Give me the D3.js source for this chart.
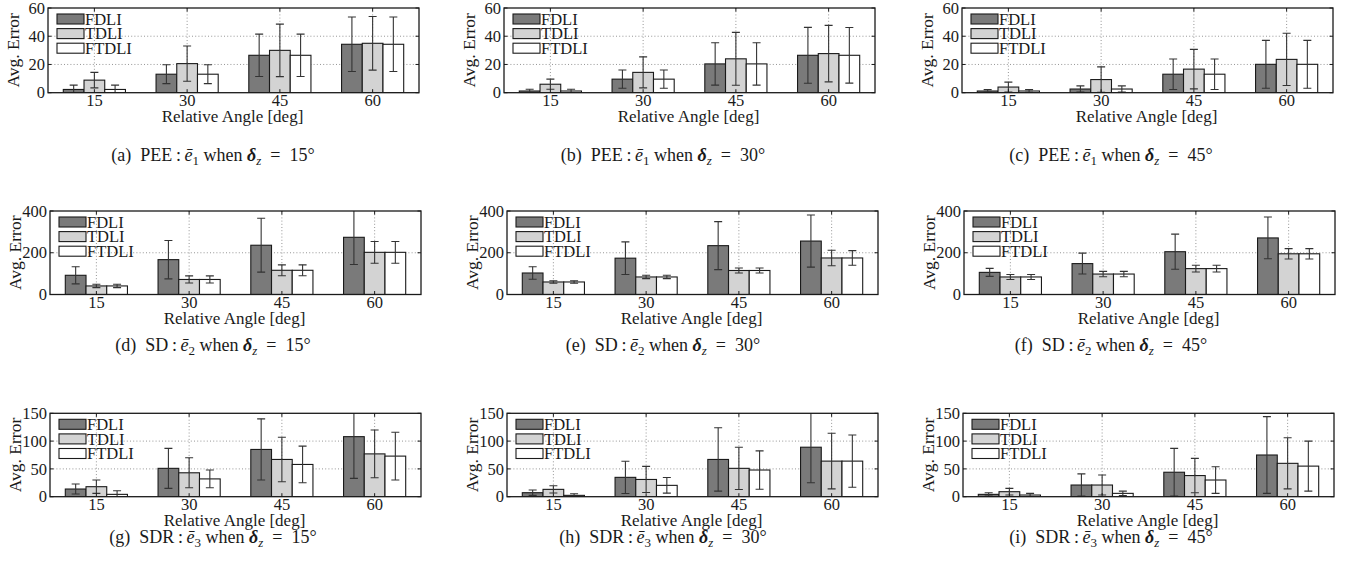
<!DOCTYPE html>
<html><head><meta charset="utf-8">
<script src="https://cdn.jsdelivr.net/npm/d3@7"></script>
<style>
body{margin:0;background:#fff}
svg{display:block}
text{font-family:"Liberation Serif","Times New Roman",serif;fill:#1a1a1a}
</style>
</head><body><svg id="c" width="1352" height="585"></svg>
<script>
// ---------- data ----------
const categories = ["15", "30", "45", "60"];
const seriesNames = ["FDLI", "TDLI", "FTDLI"];
const seriesColors = ["#7a7a7a", "#d3d3d3", "#ffffff"];
const rowTicks = [[0, 20, 40, 60], [0, 200, 400], [0, 50, 100, 150]];
const rowMeasures = ["PEE", "SD", "SDR"];
const rowSub = ["1", "2", "3"];
const colDeltas = ["15", "30", "45"];
const panelLetters = ["a", "b", "c", "d", "e", "f", "g", "h", "i"];

// means / half error (rows: FDLI, TDLI, FTDLI; columns: 15,30,45,60)
const aMean = [[2.3, 13.1, 26.5, 34.3], [8.9, 20.6, 30, 35], [2.3, 13.1, 26.5, 34.3]];
const aErr  = [[3.1, 6.7, 15, 19.3], [5.5, 12.5, 18.6, 19], [3.1, 6.7, 15, 19.3]];
const bMean = [[1.2, 9.6, 20.4, 26.5], [6, 14.4, 24, 27.7], [1.2, 9.6, 20.4, 26.5]];
const bErr  = [[1.2, 6.5, 15, 19.8], [3.6, 11, 18.7, 20], [1.2, 6.5, 15, 19.7]];
const cMean = [[1.2, 2.6, 13.1, 20.1], [4, 9.3, 16.7, 23.6], [1.2, 2.6, 13.1, 20.1]];
const cErr  = [[1, 2.2, 10.8, 17], [3.5, 9, 14, 18.5], [1, 2.2, 10.8, 17]];
const dMean = [[92, 167, 236, 274], [41, 72, 116, 202], [41, 72, 116, 202]];
const dErr  = [[41, 92, 129, 130], [8, 17, 26, 52], [8, 17, 26, 52]];
const eMean = [[103, 174, 234, 256], [60, 84, 115, 175], [60, 84, 115, 175]];
const eErr  = [[30, 78, 115, 125], [6, 8, 12, 37], [6, 8, 12, 35]];
const fMean = [[106, 148, 205, 271], [84, 98, 124, 195], [84, 98, 124, 195]];
const fErr  = [[19, 50, 84, 100], [12, 13, 16, 25], [12, 13, 16, 25]];
const gMean = [[13.8, 51, 85, 108], [18, 43, 67, 77], [4.2, 32, 58, 73]];
const gErr  = [[9, 36, 55, 75], [12, 27, 40, 43], [6.6, 16, 33, 43]];
const hMean = [[7.2, 34.8, 67, 89], [13.2, 31, 51, 64], [2.4, 20.4, 48, 64]];
const hErr  = [[4.8, 29, 57, 64], [6.5, 23.5, 38, 50], [3, 14, 34.5, 47]];
const iMean = [[4.2, 21, 44, 75], [9, 21, 38, 60], [3, 6, 30, 55]];
const iErr  = [[3, 20, 43, 69], [6, 18, 31, 46], [3, 4, 24, 45]];

const panelMeans = [aMean, bMean, cMean, dMean, eMean, fMean, gMean, hMean, iMean];
const panelErrs  = [aErr, bErr, cErr, dErr, eErr, fErr, gErr, hErr, iErr];

// ---------- layout ----------
const rowTop = [8, 211, 413.3];
const rowH = [84.7, 83.5, 83.4];
const colLeft = [[48, 504, 962], [50, 507, 964], [50, 507, 963]];
const plotW = 371;
const captionX = [213, 663, 1111];
const captionY = [161, 351, 543];

const svg = d3.select("#c");
const FONT = 16.5;

panelLetters.forEach((letter, p) => {
  const r = Math.floor(p / 3), c = p % 3;
  const L = colLeft[r][c], T = rowTop[r], H = rowH[r], W = plotW;
  const ticks = rowTicks[r];
  const yMax = ticks[ticks.length - 1];
  const y = d3.scaleLinear().domain([0, yMax]).range([T + H, T]);
  const x = d3.scaleBand().domain(categories).range([L, L + W]).padding(0);
  const step = x.step();
  const inner = d3.scaleBand().domain(seriesNames).range([-step * 0.335, step * 0.335]).padding(0);
  const g = svg.append("g");

  const clipId = "clip" + letter;
  svg.append("clipPath").attr("id", clipId)
    .append("rect").attr("x", L).attr("y", T).attr("width", W).attr("height", H);

  // grid
  const grid = g.append("g").attr("stroke", "#8a8a8a").attr("stroke-width", 0.9).attr("stroke-dasharray", "1,2.2");
  ticks.slice(1, -1).forEach(t => {
    grid.append("line").attr("x1", L).attr("x2", L + W).attr("y1", y(t)).attr("y2", y(t));
  });
  categories.forEach(cat => {
    const cx = x(cat) + step / 2;
    grid.append("line").attr("x1", cx).attr("x2", cx).attr("y1", T).attr("y2", T + H);
  });

  // bars
  const means = panelMeans[p], errs = panelErrs[p];
  const bars = g.append("g").attr("clip-path", `url(#${clipId})`);
  seriesNames.forEach((s, si) => {
    categories.forEach((cat, ci) => {
      const v = means[si][ci];
      const bx = x(cat) + step / 2 + inner(s);
      bars.append("rect")
        .attr("x", bx).attr("width", inner.bandwidth())
        .attr("y", y(v)).attr("height", y(0) - y(v))
        .attr("fill", seriesColors[si]).attr("stroke", "#1a1a1a").attr("stroke-width", 1.1);
    });
  });
  // error bars
  seriesNames.forEach((s, si) => {
    categories.forEach((cat, ci) => {
      const v = means[si][ci], e = errs[si][ci];
      const cx = x(cat) + step / 2 + inner(s) + inner.bandwidth() / 2;
      const lo = v - e, hi = v + e;
      const eb = bars.append("g").attr("stroke", "#333").attr("stroke-width", 1.1);
      eb.append("line").attr("x1", cx).attr("x2", cx).attr("y1", y(Math.max(lo, -yMax * 0.05))).attr("y2", y(hi));
      [lo, hi].forEach(val => {
        if (val >= 0) {
          eb.append("line").attr("x1", cx - 4).attr("x2", cx + 4).attr("y1", y(val)).attr("y2", y(val));
        }
      });
    });
  });

  // frame and ticks
  g.append("rect").attr("x", L).attr("y", T).attr("width", W).attr("height", H)
    .attr("fill", "none").attr("stroke", "#1a1a1a").attr("stroke-width", 1.3);
  const tk = g.append("g").attr("stroke", "#1a1a1a").attr("stroke-width", 1);
  ticks.forEach(t => {
    tk.append("line").attr("x1", L).attr("x2", L + 3.5).attr("y1", y(t)).attr("y2", y(t));
    tk.append("line").attr("x1", L + W - 3.5).attr("x2", L + W).attr("y1", y(t)).attr("y2", y(t));
  });
  categories.forEach(cat => {
    const cx = x(cat) + step / 2;
    tk.append("line").attr("x1", cx).attr("x2", cx).attr("y1", T + H).attr("y2", T + H - 3.5);
    tk.append("line").attr("x1", cx).attr("x2", cx).attr("y1", T).attr("y2", T + 3.5);
  });

  // tick labels
  ticks.forEach(t => {
    g.append("text").attr("x", L - 3).attr("y", y(t)).attr("dy", "0.34em")
      .attr("text-anchor", "end").attr("font-size", FONT).text(t);
  });
  categories.forEach(cat => {
    g.append("text").attr("x", x(cat) + step / 2).attr("y", T + H + 13)
      .attr("text-anchor", "middle").attr("font-size", FONT).text(cat);
  });
  g.append("text").attr("x", L + W / 2 - 1).attr("y", T + H + 29)
    .attr("text-anchor", "middle").attr("font-size", 17).text("Relative Angle [deg]");
  g.append("text").attr("transform", `translate(${L - 29.5},${T + H / 2}) rotate(-90)`)
    .attr("text-anchor", "middle").attr("font-size", 17.5).text("Avg. Error");

  // legend (swatches + one multi-line text block)
  const lg = g.append("g");
  const lt = lg.append("text").attr("font-size", 16.5);
  seriesNames.forEach((s, si) => {
    const ly = T + 6 + si * 14.6;
    lg.append("rect").attr("x", L + 9).attr("y", ly).attr("width", 27).attr("height", 10)
      .attr("fill", seriesColors[si]).attr("stroke", "#1a1a1a").attr("stroke-width", 1.1);
    lt.append("tspan").attr("x", L + 37).attr("y", ly + 10.8).text(s);
  });

  // caption
  const cap = svg.append("text").attr("x", captionX[c]).attr("y", captionY[r])
    .attr("text-anchor", "middle").attr("font-size", 18);
  cap.append("tspan").text(`(${letter})\u2002${rowMeasures[r]}\u2009:\u2009`);
  cap.append("tspan").attr("font-style", "italic").text("\u0113");
  cap.append("tspan").attr("dy", 3.5).attr("font-size", 13).text(rowSub[r]);
  cap.append("tspan").attr("dy", -3.5).text(" when ");
  cap.append("tspan").attr("font-style", "italic").attr("font-weight", "bold").text("\u03b4");
  cap.append("tspan").attr("dy", 3.5).attr("font-size", 13).attr("font-style", "italic").text("z");
  cap.append("tspan").attr("dy", -3.5).text(`\u2002=\u2002${colDeltas[c]}\u00b0`);
});
</script></body></html>
